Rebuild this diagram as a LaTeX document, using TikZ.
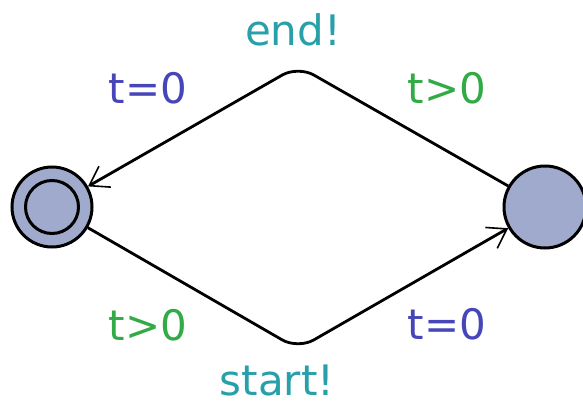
\documentclass[tikz,border=0pt]{standalone}
\usepackage{fontspec}
\setmainfont{DejaVu Sans}
\usetikzlibrary{arrows.meta,positioning}
\definecolor{locfill}{RGB}{160,170,205}
\definecolor{synccol}{RGB}{40,160,170}
\definecolor{guardcol}{RGB}{50,170,70}
\definecolor{assigncol}{RGB}{70,70,185}
\tikzset{
    % locations of the automaton
    loc/.style={
           circle,
           draw=black,
           line width=3pt,
           fill=locfill,
           minimum size=80pt,
           inner sep=0pt},
    % transitions with a bend point
    edge/.style={
           -{Straight Barb[length=18pt,width=24pt,line width=1.6pt]},
           line width=2.8pt,
           rounded corners=18pt},
    lbl/.style={font=\fontsize{42}{48}\selectfont, inner sep=0pt},
    sync/.style={lbl, text=synccol},
    guard/.style={lbl, text=guardcol},
    assign/.style={lbl, text=assigncol}
}
\begin{document}
\begin{tikzpicture}[x=1pt,y=-1pt]
\useasboundingbox (0,0) rectangle (583,404);

\node[loc] (idle) at (52,207) {};
\node[circle, draw=black, line width=3pt, minimum size=53pt] (idlein) at (idle) {};
\node[loc, minimum size=82pt] (busy) at (545,207) {};

\coordinate (up) at (298,66);
\coordinate (down) at (298,349);

\draw[edge] (busy) -- (up) -- (idle);
\draw[edge] (idle) -- (down) -- (busy);

\node[sync] (endlbl) at (293,30) {end!};
\node[assign] (resetup) at (148,88) {t=0};
\node[guard] (guardup) at (447,88) {t>0};
\node[guard] (guarddown) at (148,325) {t>0};
\node[assign] (resetdown) at (447,324) {t=0};
\node[sync] (startlbl) at (277,380) {start!};

\end{tikzpicture}
\end{document}
